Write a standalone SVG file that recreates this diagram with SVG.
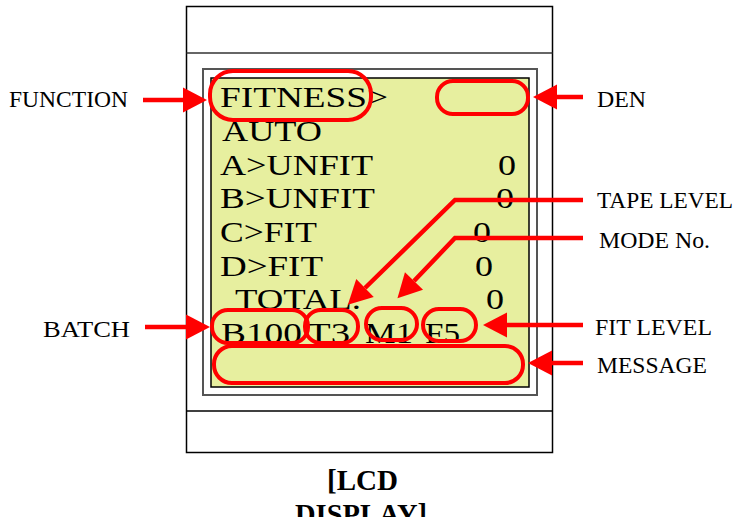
<svg xmlns="http://www.w3.org/2000/svg" width="736" height="517" viewBox="0 0 736 517">
<style>
.lcd{font-family:"Liberation Serif","Times New Roman",serif;font-size:30px;fill:#000}
.lbl{font-family:"Liberation Serif","Times New Roman",serif;font-size:23px;fill:#000}
.ttl{font-family:"Liberation Serif","Times New Roman",serif;font-size:29px;font-weight:bold;fill:#000}
.box{fill:none;stroke:#ff0000;stroke-width:4}
.conn{fill:none;stroke:#ff0000;stroke-width:4.5}
</style>
<defs>
<marker id="ah" markerUnits="userSpaceOnUse" markerWidth="26" markerHeight="26" refX="0" refY="12.5" orient="auto" overflow="visible">
<path d="M0,0 L24,12.5 L0,25 z" fill="#ff0000"/>
</marker>
</defs>
<g id="device">
<rect x="186.5" y="6.5" width="366" height="446" fill="#fff" stroke="#000" stroke-width="1.5"/>
<line x1="186.5" y1="53" x2="552.5" y2="53" stroke="#333" stroke-width="1.5"/>
<line x1="186.5" y1="411" x2="552.5" y2="411" stroke="#000" stroke-width="1.5"/>
<rect x="203" y="69" width="334" height="326" fill="#fff" stroke="#555" stroke-width="2"/>
<rect x="211" y="78" width="318" height="309" fill="#e7ef9f" stroke="#000" stroke-width="1.5"/>
</g>
<g id="screen-text">
<text class="lcd" x="220" y="107" textLength="168" lengthAdjust="spacingAndGlyphs">FITNESS&gt;</text>
<text class="lcd" x="222" y="141" textLength="100" lengthAdjust="spacingAndGlyphs">AUTO</text>
<text class="lcd" x="220" y="175" textLength="153" lengthAdjust="spacingAndGlyphs">A&gt;UNFIT</text>
<text class="lcd" x="220" y="208" textLength="155" lengthAdjust="spacingAndGlyphs">B&gt;UNFIT</text>
<text class="lcd" x="220" y="242" textLength="97" lengthAdjust="spacingAndGlyphs">C&gt;FIT</text>
<text class="lcd" x="220" y="276" textLength="103" lengthAdjust="spacingAndGlyphs">D&gt;FIT</text>
<text class="lcd" x="235" y="309" textLength="126" lengthAdjust="spacingAndGlyphs">TOTAL.</text>
<text class="lcd" x="498" y="175" textLength="18" lengthAdjust="spacingAndGlyphs">0</text>
<text class="lcd" x="496" y="208" textLength="18" lengthAdjust="spacingAndGlyphs">0</text>
<text class="lcd" x="473" y="242" textLength="18" lengthAdjust="spacingAndGlyphs">0</text>
<text class="lcd" x="475" y="276" textLength="18" lengthAdjust="spacingAndGlyphs">0</text>
<text class="lcd" x="486" y="309" textLength="18" lengthAdjust="spacingAndGlyphs">0</text>
<text class="lcd" x="221" y="343" textLength="81" lengthAdjust="spacingAndGlyphs">B100</text>
<text class="lcd" x="307" y="343" textLength="43" lengthAdjust="spacingAndGlyphs">T3</text>
<text class="lcd" x="365" y="343" textLength="48" lengthAdjust="spacingAndGlyphs">M1</text>
<text class="lcd" x="425" y="343" textLength="35" lengthAdjust="spacingAndGlyphs">F5</text>
</g>
<g id="highlights">
<rect id="function-box" class="box" x="210" y="71" width="161" height="49" rx="23"/>
<rect id="den-box" class="box" x="437" y="81" width="91" height="33" rx="16"/>
<rect id="batch-box" class="box" x="212" y="310" width="96" height="33" rx="16"/>
<rect id="tape-box" class="box" x="305" y="310" width="53" height="33" rx="16"/>
<rect id="mode-box" class="box" x="366" y="308" width="51" height="32" rx="16"/>
<rect id="fit-box" class="box" x="423" y="309" width="53" height="32" rx="16"/>
<rect id="message-box" x="214" y="346" width="309" height="37" rx="18" fill="#e7ef9f" stroke="#ff0000" stroke-width="4"/>
</g>
<g id="connectors">
<line class="conn" x1="143" y1="100" x2="183" y2="100" marker-end="url(#ah)" stroke-width="5"/>
<line class="conn" x1="583" y1="97" x2="557" y2="97" marker-end="url(#ah)" stroke-width="5"/>
<polyline class="conn" points="583,200 455,200 365,288" marker-end="url(#ah)"/>
<polyline class="conn" points="583,238 455,238 414,281" marker-end="url(#ah)"/>
<line class="conn" x1="583" y1="325" x2="507" y2="325" marker-end="url(#ah)" stroke-width="5"/>
<line class="conn" x1="583" y1="363" x2="552" y2="363" marker-end="url(#ah)" stroke-width="5"/>
<line class="conn" x1="145" y1="327" x2="186" y2="327" marker-end="url(#ah)" stroke-width="5"/>
</g>
<g id="labels">
<text id="lbl-function" class="lbl" x="9" y="107" textLength="119" lengthAdjust="spacingAndGlyphs">FUNCTION</text>
<text id="lbl-den" class="lbl" x="597" y="107" textLength="49" lengthAdjust="spacingAndGlyphs">DEN</text>
<text id="lbl-tape" class="lbl" x="597" y="208" textLength="136" lengthAdjust="spacingAndGlyphs">TAPE LEVEL</text>
<text id="lbl-mode" class="lbl" x="599" y="248" textLength="111" lengthAdjust="spacingAndGlyphs">MODE No.</text>
<text id="lbl-fit" class="lbl" x="595" y="335" textLength="117" lengthAdjust="spacingAndGlyphs">FIT LEVEL</text>
<text id="lbl-message" class="lbl" x="597" y="373" textLength="110" lengthAdjust="spacingAndGlyphs">MESSAGE</text>
<text id="lbl-batch" class="lbl" x="43" y="337" textLength="87" lengthAdjust="spacingAndGlyphs">BATCH</text>
</g>
<g id="title">
<text class="ttl" x="327" y="490" textLength="71" lengthAdjust="spacingAndGlyphs">[LCD</text>
<text class="ttl" x="295" y="524" textLength="132" lengthAdjust="spacingAndGlyphs">DISPLAY]</text>
</g>
</svg>
